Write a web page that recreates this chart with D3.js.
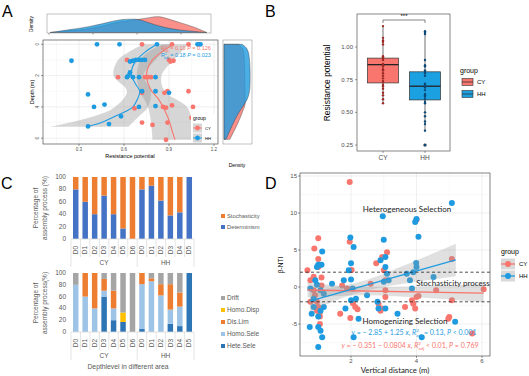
<!DOCTYPE html>
<html><head><meta charset="utf-8">
<script src="https://cdn.jsdelivr.net/npm/d3@7/dist/d3.min.js"></script>
<style>body{margin:0;background:#fff}svg{display:block}</style>
</head><body>
<svg id="c" width="529" height="376"></svg>
<script>
// ---------- DATA ----------
// Panel A scatter: [depth, resistance]
const aCY = [[0,0.72],[0,0.92],[0,1.03],[1,0.62],[1.0,0.90],[1.1,0.91],[1.05,0.93],[2.1,0.56],[2.1,0.74],[2.1,0.76],[2.1,0.78],[3.0,1.03],[3.0,0.89],[3.1,0.72],[3.1,0.87],[3.9,0.92],[4.0,0.86],[4.05,0.88],[4.1,0.67],[4.0,1.06],[4.7,1.05],[5.0,0.72],[5.15,0.79],[5.0,0.89],[6.1,0.88]];
const aHH = [[0,0.42],[0,0.57],[0,0.82],[0,1.09],[0,1.10],[0,1.11],[1.05,0.25],[1.1,0.64],[1.05,0.66],[1.0,0.68],[1.0,0.70],[1.0,0.72],[1.0,0.74],[1.8,0.64],[2.0,0.63],[2.1,0.62],[2.1,0.66],[2.1,0.70],[2.1,0.81],[3.0,0.72],[3.0,0.81],[3.1,0.90],[3.2,0.36],[3.85,0.47],[4.0,0.40],[4.0,0.70],[3.95,0.81],[4.6,0.58],[5.1,0.50],[5.25,0.36]];
// smooth curves: [depth, value]
const aSmoothCY = [[0,0.93],[0.5,0.85],[1,0.79],[1.5,0.76],[2,0.75],[2.5,0.76],[3,0.785],[3.5,0.83],[4,0.86],[4.5,0.885],[5,0.905],[5.5,0.92],[6.1,0.94]];
const aSmoothHH = [[0,0.82],[0.5,0.74],[1,0.685],[1.5,0.655],[2,0.65],[2.5,0.675],[3,0.705],[3.5,0.69],[4,0.66],[4.3,0.61],[4.6,0.54],[5,0.45],[5.27,0.35]];
// bands: [depth, lo, hi]
const aBandCY = [[0,0.86,1.03],[0.5,0.76,0.98],[1,0.71,0.93],[2,0.685,0.85],[3,0.707,0.87],[4,0.76,1.02],[5,0.78,1.06],[6.1,0.79,1.12]];
const aBandHH = [[0,0.73,0.93],[0.5,0.63,0.86],[1,0.56,0.81],[2,0.53,0.73],[3,0.62,0.78],[4,0.54,0.76],[4.6,0.40,0.70],[5.27,0.11,0.63]];
// top density: [value, density]
const densTopHH = [[0.256,0],[0.388,0.42],[0.483,0.75],[0.578,1.25],[0.653,1.67],[0.729,1.71],[0.767,1.67],[0.824,1.17],[0.919,0.54],[1.013,0.25],[1.146,0]];
const densTopCY = [[0.256,0],[0.483,0.42],[0.578,0.96],[0.653,1.38],[0.767,1.67],[0.843,2.0],[0.88,2.04],[0.919,1.79],[0.994,1.25],[1.07,0.75],[1.146,0]];
const topTicks = [0.25,0.50,0.75,1.00];
// right density: [depth, density]
const densRightHH = [[0,0.34],[0.25,0.44],[0.75,0.475],[1.6,0.49],[2.66,0.49],[3.1,0.475],[3.52,0.44],[3.94,0.36],[4.37,0.275],[4.8,0.21],[5.2,0.15],[5.65,0.094],[6.07,0.038]];
const densRightCY = [[0,0.275],[0.25,0.36],[0.75,0.38],[1.6,0.39],[2.66,0.39],[3.73,0.4],[3.94,0.39],[4.37,0.34],[4.8,0.29],[5.2,0.24],[5.65,0.17],[6.07,0.11]];
const aXTicks = [0.3,0.6,0.9,1.2];
const aYTicks = [0,2,4,6];

// Panel B
const groups = ["CY","HH"];
const bBox = {CY:{lo:0.565,q1:0.725,med:0.865,q3:0.915,hi:1.16}, HH:{lo:0.36,q1:0.595,med:0.70,q3:0.81,hi:1.12}};
const bOutHH = [0.25];
const bPtsCY = [1.16,1.07,1.05,1.04,1.02,0.93,0.92,0.91,0.90,0.87,0.86,0.85,0.83,0.82,0.80,0.78,0.76,0.74,0.73,0.71,0.70,0.68,0.65,0.63,0.60,0.57];
const bPtsHH = [1.12,1.11,1.10,0.90,0.86,0.85,0.82,0.81,0.80,0.78,0.72,0.71,0.70,0.69,0.67,0.64,0.63,0.62,0.60,0.58,0.57,0.50,0.47,0.43,0.41,0.36,0.25];
const bYTicks = [0.25,0.50,0.75,1.00];

// Panel C
const cCatsCY = ["D0","D1","D2","D3","D4","D5","D6"];
const cCatsHH = ["D0","D1","D2","D3","D4","D5"];
const cDeterminism = [80,60,40,70,40,17,0, 80,86,62,38,43,100];
const cStochasticity = [20,40,60,30,60,83,100, 20,14,38,62,57,0];
const cHeteSele = [0,0,0,60,20,17,0, 5,0,0,14,10,100];
const cHomoSele = [80,60,40,10,20,0,0, 76,86,62,24,33,0];
const cDisLim   = [0,40,60,20,30,0,0, 19,5,19,43,24,0];
const cHomoDisp = [0,0,0,0,0,16,0, 0,0,0,0,0,0];
const cDrift    = [20,0,0,10,30,67,100, 0,9,19,19,33,0];
const cYTicks = [0,20,40,60,80,100];

// Panel D scatter: [distance, bNTI]
const dCY = [[0.67,2.25],[0.76,0.9],[0.88,5.2],[1.0,6.6],[1.0,3.8],[1.0,2.7],[0.86,1.4],[0.86,-0.45],[0.9,-1.1],[0.96,-2.0],[1.0,-2.7],[1.05,-3.4],[1.05,-4.0],[1.05,-5.0],[1.1,1.3],[1.1,0.2],[0.76,-2.0],[0.96,-3.2],[1.67,-3.6],[1.73,0.2],[1.88,-0.2],[1.96,14.2],[1.96,6.1],[2.02,2.3],[2.06,-2.2],[1.98,-4.2],[2.13,-2.7],[2.2,-3.0],[2.6,0.45],[2.77,3.2],[2.84,-2.25],[2.9,-3.2],[2.95,4.05],[3.0,2.25],[3.05,0.9],[3.05,-0.45],[3.05,-1.35],[3.1,4.7],[2.94,-2.9],[3.65,-2.7],[3.86,-1.8],[3.9,-2.25],[3.96,-2.9],[4.0,9.1],[4.0,-1.35],[4.06,-1.2],[4.6,-0.45],[4.97,-4.3],[5.0,-4.05],[5.08,3.8],[5.08,-1.8],[5.7,-6.3],[6.05,-0.3]];
const dHH = [[0.76,-0.2],[0.74,-5.4],[0.8,-3.6],[0.86,-1.6],[0.91,0.9],[0.96,0.3],[0.96,2.7],[1.0,3.0],[1.05,3.0],[1.1,3.0],[1.07,-0.45],[1.07,-3.2],[1.0,-4.0],[1.0,-5.4],[1.07,-5.9],[1.0,-8.1],[1.12,-6.8],[1.12,4.8],[1.17,-0.9],[1.17,-2.7],[0.86,-2.7],[1.42,0.45],[1.78,0.9],[1.83,-2.9],[1.93,2.25],[1.98,6.7],[2.0,3.2],[2.08,5.4],[2.0,1.0],[2.05,-0.2],[2.0,-1.8],[2.08,-6.8],[2.23,-4.3],[2.15,-1.6],[2.49,-1.1],[2.81,-2.0],[2.84,-2.9],[2.9,3.6],[2.97,9.55],[3.0,6.4],[3.05,4.05],[3.05,2.7],[3.0,0.7],[3.1,1.8],[3.15,0.9],[3.05,-2.9],[3.42,-3.6],[3.7,1.8],[3.8,0.9],[3.86,-0.2],[3.9,2.0],[3.96,8.8],[4.0,9.2],[3.99,3.25],[4.0,2.7],[4.06,6.8],[4.16,-6.8],[4.52,1.35],[5.08,11.35],[5.18,-4.7]];
const dFitCY = [[0.67,-0.405],[6.05,-0.837]];
const dFitHH = [[0.74,-1.925],[5.2,3.65]];
const dBandCY = [[0.67,-1.4,0.6],[2.5,-1.1,0.0],[4,-1.4,0.05],[6.05,-2.1,0.4]];
const dBandHH = [[0.74,-3.4,-0.5],[1.5,-1.9,-0.03],[2.3,-0.68,0.73],[3,0.0,1.8],[4,0.7,3.6],[5.2,1.45,5.85]];
const dXTicks = [2,4,6];
const dYTicks = [-5,0,5,10,15];

// ---------- DRAW ----------
const svg = d3.select("#c");
const RED = "#F8766D", BLUE = "#1E9BE0";
const F = "Liberation Sans, Arial, sans-serif";
const FD = "Lato, Open Sans, sans-serif";

function txt(g,x,y,s,o={}){
  const t=g.append("text").attr("x",x).attr("y",y).text(s)
   .attr("font-family",o.ff||F).attr("font-size",o.fs||6).attr("fill",o.fill||"#000")
   .attr("text-anchor",o.anchor||"start");
  if(o.rot!==undefined) t.attr("transform",`rotate(${o.rot},${x},${y})`);
  if(o.fw) t.attr("font-weight",o.fw);
  if(o.db) t.attr("dominant-baseline",o.db);
  return t;
}

// Panel letters
txt(svg,2,17,"A",{fs:16});
txt(svg,265,17,"B",{fs:16});
txt(svg,1,189,"C",{fs:16});
txt(svg,265,189,"D",{fs:16});

// ===== Panel A =====
const xA = d3.scaleLinear([0.3,1.2],[79,214]);
const yA = d3.scaleLinear([0,6],[44.3,138.2]);
const A = svg.append("g");
A.append("rect").attr("x",43).attr("y",40).attr("width",175).attr("height",104).attr("fill","#fff");
// grid
const aMinorX=[0.15,0.45,0.75,1.05], aMinorY=[1,3,5];
aMinorX.forEach(v=>A.append("line").attr("x1",xA(v)).attr("x2",xA(v)).attr("y1",40).attr("y2",144).attr("stroke","#F2F2F2").attr("stroke-width",0.5));
aMinorY.forEach(v=>A.append("line").attr("y1",yA(v)).attr("y2",yA(v)).attr("x1",43).attr("x2",218).attr("stroke","#F2F2F2").attr("stroke-width",0.5));
aXTicks.forEach(v=>A.append("line").attr("x1",xA(v)).attr("x2",xA(v)).attr("y1",40).attr("y2",144).attr("stroke","#EBEBEB").attr("stroke-width",0.8));
aYTicks.forEach(v=>A.append("line").attr("y1",yA(v)).attr("y2",yA(v)).attr("x1",43).attr("x2",218).attr("stroke","#EBEBEB").attr("stroke-width",0.8));
const clipA = svg.append("clipPath").attr("id","clipA").append("rect").attr("x",43).attr("y",40).attr("width",175).attr("height",104);
const Ac = A.append("g").attr("clip-path","url(#clipA)");
const bandA = d3.area().y(d=>yA(d[0])).x0(d=>xA(d[1])).x1(d=>xA(d[2])).curve(d3.curveCatmullRom);
Ac.append("path").attr("d",bandA(aBandHH)).attr("fill","#999").attr("opacity",0.4);
Ac.append("path").attr("d",bandA(aBandCY)).attr("fill","#999").attr("opacity",0.4);
const lineA = d3.line().y(d=>yA(d[0])).x(d=>xA(d[1])).curve(d3.curveCatmullRom);
Ac.append("path").attr("d",lineA(aSmoothHH)).attr("fill","none").attr("stroke",BLUE).attr("stroke-width",1.1);
Ac.append("path").attr("d",lineA(aSmoothCY)).attr("fill","none").attr("stroke",RED).attr("stroke-width",1.1);
aCY.forEach(d=>Ac.append("circle").attr("cx",xA(d[1])).attr("cy",yA(d[0])).attr("r",2.4).attr("fill",RED));
aHH.forEach(d=>Ac.append("circle").attr("cx",xA(d[1])).attr("cy",yA(d[0])).attr("r",2.4).attr("fill",BLUE));
A.append("rect").attr("x",43).attr("y",40).attr("width",175).attr("height",104).attr("fill","none").attr("stroke","#333").attr("stroke-width",0.6);
aXTicks.forEach(v=>{A.append("line").attr("x1",xA(v)).attr("x2",xA(v)).attr("y1",144).attr("y2",146).attr("stroke","#333").attr("stroke-width",0.5);
  txt(A,xA(v),151,d3.format(".1f")(v),{fs:4.5,fill:"#4D4D4D",anchor:"middle"});});
aYTicks.forEach(v=>{A.append("line").attr("x1",41).attr("x2",43).attr("y1",yA(v)).attr("y2",yA(v)).attr("stroke","#333").attr("stroke-width",0.5);
  txt(A,39,yA(v),String(v),{fs:4.5,fill:"#4D4D4D",anchor:"middle",rot:-90});});
txt(A,130,158,"Resistance potential",{fs:5.5,anchor:"middle"});
txt(A,34,92,"Depth (m)",{fs:5.5,anchor:"middle",rot:-90});
// stats labels
const sCY = txt(A,161,50,"",{fs:5.5,fill:RED});
sCY.append("tspan").text("R");sCY.append("tspan").text("2").attr("font-size",3.5).attr("dy",-2);
sCY.append("tspan").text("adj").attr("font-size",3.5).attr("dy",3.5).attr("dx",-3);
sCY.append("tspan").text(" = 0.10   ").attr("dy",-1.5);sCY.append("tspan").text("P").attr("font-style","italic");sCY.append("tspan").text(" = 0.126");
const sHH = txt(A,161,57,"",{fs:5.5,fill:BLUE});
sHH.append("tspan").text("R");sHH.append("tspan").text("2").attr("font-size",3.5).attr("dy",-2);
sHH.append("tspan").text("adj").attr("font-size",3.5).attr("dy",3.5).attr("dx",-3);
sHH.append("tspan").text(" = 0.18   ").attr("dy",-1.5);sHH.append("tspan").text("P").attr("font-style","italic");sHH.append("tspan").text(" = 0.023");
// legend A
A.append("rect").attr("x",191).attr("y",114).attr("width",24).attr("height",29).attr("fill","#fff");
txt(A,193,120,"group",{fs:5});
[["CY",RED,128],["HH",BLUE,138]].forEach(([n,c,y])=>{
  A.append("rect").attr("x",193).attr("y",y-4.5).attr("width",9).attr("height",9).attr("fill","#D6D6D6");
  A.append("line").attr("x1",193).attr("x2",202).attr("y1",y).attr("y2",y).attr("stroke",c).attr("stroke-width",1);
  A.append("circle").attr("cx",197.5).attr("cy",y).attr("r",2.4).attr("fill",c);
  txt(A,205,y+1.5,n,{fs:4.2});
});
// top density
const xT = d3.scaleLinear([0.25,1.0],[49,181]);
const yT = d3.scaleLinear([0,2.1],[32.5,16]);
A.append("rect").attr("x",47).attr("y",14).attr("width",164).attr("height",19).attr("fill","#fff");
const areaT = d3.area().x(d=>xT(d[0])).y0(yT(0)).y1(d=>yT(d[1])).curve(d3.curveBasis);
A.append("path").attr("d",areaT(densTopCY)).attr("fill",RED).attr("fill-opacity",0.8).attr("stroke","#333").attr("stroke-width",0.4);
A.append("path").attr("d",areaT(densTopHH)).attr("fill",BLUE).attr("fill-opacity",0.8).attr("stroke","#333").attr("stroke-width",0.4);
A.append("rect").attr("x",47).attr("y",14).attr("width",164).attr("height",19).attr("fill","none").attr("stroke","#999").attr("stroke-width",0.6);
topTicks.forEach(v=>A.append("line").attr("x1",xT(v)).attr("x2",xT(v)).attr("y1",33).attr("y2",34.5).attr("stroke","#333").attr("stroke-width",0.5));
txt(A,33,24,"Density",{fs:4.8,anchor:"middle",rot:-90});
// right density
const xR = d3.scaleLinear([0,0.5],[224,250.7]);
A.append("rect").attr("x",223).attr("y",40).attr("width",29).attr("height",104).attr("fill","#fff");
const areaR = d3.area().y(d=>yA(d[0])).x0(xR(0)).x1(d=>xR(d[1])).curve(d3.curveBasis);
A.append("path").attr("d",areaR(densRightCY)).attr("fill",RED).attr("fill-opacity",0.8).attr("stroke","#333").attr("stroke-width",0.4);
A.append("path").attr("d",areaR(densRightHH)).attr("fill",BLUE).attr("fill-opacity",0.8).attr("stroke","#333").attr("stroke-width",0.4);
A.append("rect").attr("x",223).attr("y",40).attr("width",29).attr("height",104).attr("fill","none").attr("stroke","#999").attr("stroke-width",0.6);
txt(A,237,167,"Density",{fs:5,anchor:"middle"});

// ===== Panel B =====
const B = svg.append("g");
const xB = d3.scalePoint(groups,[383,425]);
const yB = d3.scaleLinear([0.25,1.0],[145,47]);
B.append("rect").attr("x",357).attr("y",14).attr("width",93).attr("height",137).attr("fill","none").attr("stroke","#555").attr("stroke-width",0.7);
bYTicks.forEach(v=>{B.append("line").attr("x1",355).attr("x2",357).attr("y1",yB(v)).attr("y2",yB(v)).attr("stroke","#333").attr("stroke-width",0.5);
  txt(B,353,yB(v)+2,d3.format(".2f")(v),{fs:6,fill:"#4D4D4D",anchor:"end"});});
groups.forEach(g=>{B.append("line").attr("x1",xB(g)).attr("x2",xB(g)).attr("y1",151).attr("y2",153).attr("stroke","#333").attr("stroke-width",0.5);
  txt(B,xB(g),160,g,{fs:6.5,fill:"#4D4D4D",anchor:"middle"});});
txt(B,330,83,"Resistance potential",{fs:8.5,anchor:"middle",rot:-90});
const bw = 31;
groups.forEach(g=>{
  const s=bBox[g], cx=xB(g), col=g==="CY"?RED:"#1BA1E2";
  B.append("line").attr("x1",cx).attr("x2",cx).attr("y1",yB(s.hi)).attr("y2",yB(s.lo)).attr("stroke","#333").attr("stroke-width",0.7);
  B.append("rect").attr("x",cx-bw/2).attr("y",yB(s.q3)).attr("width",bw).attr("height",yB(s.q1)-yB(s.q3)).attr("fill",col).attr("stroke","#333").attr("stroke-width",0.7);
  B.append("line").attr("x1",cx-bw/2).attr("x2",cx+bw/2).attr("y1",yB(s.med)).attr("y2",yB(s.med)).attr("stroke","#222").attr("stroke-width",1.3);
});
bOutHH.forEach(v=>B.append("circle").attr("cx",xB("HH")).attr("cy",yB(v)).attr("r",1.6).attr("fill","#222"));
bPtsCY.forEach(v=>B.append("circle").attr("cx",xB("CY")).attr("cy",yB(v)).attr("r",1.2).attr("fill","#9E2A25"));
bPtsHH.forEach(v=>B.append("circle").attr("cx",xB("HH")).attr("cy",yB(v)).attr("r",1.2).attr("fill","#0B4A78"));
B.append("path").attr("d",`M${xB("CY")},23V20H${xB("HH")}V23`).attr("fill","none").attr("stroke","#333").attr("stroke-width",0.6);
txt(B,404,18,"***",{fs:6,anchor:"middle"});
txt(B,460,73,"group",{fs:7});
[["CY",RED,82],["HH","#1BA1E2",94]].forEach(([n,c,y])=>{
  B.append("rect").attr("x",462).attr("y",y-3.5).attr("width",11).attr("height",7).attr("fill",c).attr("stroke","#333").attr("stroke-width",0.6);
  B.append("line").attr("x1",462).attr("x2",473).attr("y1",y).attr("y2",y).attr("stroke","#333").attr("stroke-width",0.8);
  txt(B,477,y+2,n,{fs:6});
});

// ===== Panel C =====
const C = svg.append("g");
const cKeys = cCatsCY.map(d=>"CY-"+d).concat(cCatsHH.map(d=>"HH-"+d));
const cLabels = cCatsCY.concat(cCatsHH);
const xC = d3.scaleBand(cKeys,[71,194]).paddingInner(0.42).paddingOuter(0.21);
function drawC(y0,y1,series,colors,titleY,tlab){
  const yC = d3.scaleLinear([0,100],[y0,y1]);
  const rows = cKeys.map((k,i)=>{const o={k};series.forEach(s=>o[s.name]=s.vals[i]);return o;});
  const st = d3.stack().keys(series.map(s=>s.name))(rows);
  st.forEach((layer,li)=>layer.forEach(seg=>{
    C.append("rect").attr("x",xC(seg.data.k)).attr("width",xC.bandwidth())
     .attr("y",yC(seg[1])).attr("height",Math.max(0,yC(seg[0])-yC(seg[1]))).attr("fill",colors[li]);
  }));
  cYTicks.forEach(v=>txt(C,66,yC(v)+2,String(v),{fs:6.5,fill:"#595959",anchor:"end"}));
  C.append("line").attr("x1",71).attr("x2",194).attr("y1",y0).attr("y2",y0).attr("stroke","#D9D9D9").attr("stroke-width",0.8);
  // category tick lines
  const step=xC.step();
  cKeys.forEach((k,i)=>{ if(i>0&&i!==7){const x=xC(k)-xC.paddingInner()*step/2;
    C.append("line").attr("x1",x).attr("x2",x).attr("y1",y0).attr("y2",y0+18).attr("stroke","#D9D9D9").attr("stroke-width",0.7);}
    txt(C,xC(k)+xC.bandwidth()/2+2.2,y0+11,cLabels[i],{fs:6.5,fill:"#595959",anchor:"middle",rot:-90});
  });
  const xs=[71, xC("HH-D0")-xC.paddingInner()*step/2, 194];
  xs.forEach(x=>C.append("line").attr("x1",x).attr("x2",x).attr("y1",y0).attr("y2",y0+28).attr("stroke","#D9D9D9").attr("stroke-width",0.7));
  txt(C,(xs[0]+xs[1])/2,y0+26,"CY",{fs:6.5,fill:"#595959",anchor:"middle"});
  txt(C,(xs[1]+xs[2])/2,y0+26,"HH",{fs:6.5,fill:"#595959",anchor:"middle"});
  txt(C,38,titleY,"Percentage of",{fs:6.5,fill:"#595959",anchor:"middle",rot:-90});
  txt(C,46.5,titleY,tlab,{fs:6.5,fill:"#595959",anchor:"middle",rot:-90});
}
drawC(239,177,[{name:"Determinism",vals:cDeterminism},{name:"Stochasticity",vals:cStochasticity}],["#4472C4","#ED7D31"],208,"assembly process (%)");
drawC(332,273,[{name:"Hete.Sele",vals:cHeteSele},{name:"Homo.Sele",vals:cHomoSele},{name:"Dis.Lim",vals:cDisLim},{name:"Homo.Disp",vals:cHomoDisp},{name:"Drift",vals:cDrift}],["#2E75B6","#9DC3E6","#ED7D31","#FFC000","#A5A5A5"],303,"assembly process(%)");
txt(C,128,369,"Depthlevel in different area",{fs:6.8,fill:"#595959",anchor:"middle"});
[["Stochasticity","#ED7D31",216],["Determinism","#4472C4",227]].forEach(([n,c,y])=>{
  C.append("rect").attr("x",221).attr("y",y-2).attr("width",4).attr("height",4).attr("fill",c);
  txt(C,227,y+2,n,{fs:5.8,fill:"#595959"});
});
[["Drift","#A5A5A5",298],["Homo.Disp","#FFC000",310],["Dis.Lim","#ED7D31",322],["Homo.Sele","#9DC3E6",334],["Hete.Sele","#2E75B6",346]].forEach(([n,c,y])=>{
  C.append("rect").attr("x",221).attr("y",y-2).attr("width",4).attr("height",4).attr("fill",c);
  txt(C,227,y+2.3,n,{fs:6.5,fill:"#595959"});
});

// ===== Panel D =====
const D = svg.append("g");
const xD = d3.scaleLinear([2,6],[351,482]);
const yD = d3.scaleLinear([-5,15],[324,176]);
const dl=300,dr=490,dt=173,db=356;
D.append("rect").attr("x",dl).attr("y",dt).attr("width",dr-dl).attr("height",db-dt).attr("fill","#fff");
[1,3,5].forEach(v=>D.append("line").attr("x1",xD(v)).attr("x2",xD(v)).attr("y1",dt).attr("y2",db).attr("stroke","#F2F2F2").attr("stroke-width",0.5));
[-7.5,-2.5,2.5,7.5,12.5].forEach(v=>D.append("line").attr("y1",yD(v)).attr("y2",yD(v)).attr("x1",dl).attr("x2",dr).attr("stroke","#F2F2F2").attr("stroke-width",0.5));
dXTicks.forEach(v=>D.append("line").attr("x1",xD(v)).attr("x2",xD(v)).attr("y1",dt).attr("y2",db).attr("stroke","#EBEBEB").attr("stroke-width",0.8));
dYTicks.forEach(v=>D.append("line").attr("y1",yD(v)).attr("y2",yD(v)).attr("x1",dl).attr("x2",dr).attr("stroke","#EBEBEB").attr("stroke-width",0.8));
svg.append("clipPath").attr("id","clipD").append("rect").attr("x",dl).attr("y",dt).attr("width",dr-dl).attr("height",db-dt);
const Dc = D.append("g").attr("clip-path","url(#clipD)");
dCY.forEach(d=>Dc.append("circle").attr("cx",xD(d[0])).attr("cy",yD(d[1])).attr("r",3).attr("fill",RED));
dHH.forEach(d=>Dc.append("circle").attr("cx",xD(d[0])).attr("cy",yD(d[1])).attr("r",3).attr("fill",BLUE));
const bandD = d3.area().x(d=>xD(d[0])).y0(d=>yD(d[1])).y1(d=>yD(d[2])).curve(d3.curveMonotoneX);
Dc.append("path").attr("d",bandD(dBandCY)).attr("fill","#999").attr("opacity",0.3);
Dc.append("path").attr("d",bandD(dBandHH)).attr("fill","#999").attr("opacity",0.3);
const lineD = d3.line().x(d=>xD(d[0])).y(d=>yD(d[1]));
Dc.append("path").attr("d",lineD(dFitCY)).attr("stroke",RED).attr("stroke-width",1.3).attr("fill","none");
Dc.append("path").attr("d",lineD(dFitHH)).attr("stroke",BLUE).attr("stroke-width",1.3).attr("fill","none");
[2,-2].forEach(v=>D.append("line").attr("x1",dl).attr("x2",dr).attr("y1",yD(v)).attr("y2",yD(v)).attr("stroke","#222").attr("stroke-width",0.8).attr("stroke-dasharray","3,2.5"));
D.append("rect").attr("x",dl).attr("y",dt).attr("width",dr-dl).attr("height",db-dt).attr("fill","none").attr("stroke","#333").attr("stroke-width",0.6);
dXTicks.forEach(v=>{D.append("line").attr("x1",xD(v)).attr("x2",xD(v)).attr("y1",db).attr("y2",db+2).attr("stroke","#333").attr("stroke-width",0.5);
  txt(D,xD(v),363,String(v),{fs:6,fill:"#4D4D4D",anchor:"middle"});});
dYTicks.forEach(v=>{D.append("line").attr("x1",dl-2).attr("x2",dl).attr("y1",yD(v)).attr("y2",yD(v)).attr("stroke","#333").attr("stroke-width",0.5);
  txt(D,dl-3,yD(v)+2,String(v),{fs:6,fill:"#4D4D4D",anchor:"end"});});
txt(D,283,265,"β-NTI",{fs:6.5,anchor:"middle",rot:-90});
txt(D,395,373,"Vertical distance (m)",{fs:7.8,anchor:"middle",fill:"#222",ff:FD});
txt(D,407,212,"Heterogeneous Selection",{fs:8,anchor:"middle",ff:FD,fill:"#222"});
txt(D,453,286,"Stochasticity process",{fs:8,anchor:"middle",ff:FD,fill:"#222"});
txt(D,405,324,"Homogenizing Selection",{fs:8,anchor:"middle",ff:FD,fill:"#222"});
function eq(x,y,col,parts){
  const t=txt(D,x,y,"",{fs:7,fill:col,anchor:"middle",ff:FD});
  parts.forEach(p=>{const s=t.append("tspan").text(p[0]);if(p[1]==="i")s.attr("font-style","italic");
    if(p[1]==="sup")s.attr("font-size",4.5).attr("dy",-3);
    if(p[1]==="sub")s.attr("font-size",4.5).attr("dy",4.5).attr("dx",-2.5);
    if(p[2]) s.attr("dy",p[2]);});
  return t;
}
eq(414,335,BLUE,[["y","i"],[" = − 2.85 + 1.25 "],["x","i"],[", "],["R","i"],["2","sup"],["adj","sub"],[" = 0.13, ","",-1.5],["P","i"],[" < 0.001"]]);
eq(410,348,RED,[["y","i"],[" = − 0.351 − 0.0804 "],["x","i"],[", "],["R","i"],["2","sup"],["adj","sub"],[" < 0.01, ","",-1.5],["P","i"],[" = 0.769"]]);
// legend D
txt(D,501,254,"group",{fs:7});
[["CY",RED,264],["HH",BLUE,276]].forEach(([n,c,y])=>{
  D.append("rect").attr("x",501).attr("y",y-5.5).attr("width",14).attr("height",11).attr("fill","#D9D9D9");
  D.append("line").attr("x1",501).attr("x2",515).attr("y1",y).attr("y2",y).attr("stroke",c).attr("stroke-width",1.3);
  D.append("circle").attr("cx",508).attr("cy",y).attr("r",3).attr("fill",c);
  txt(D,519,y+2.2,n,{fs:6});
});
</script>
</body></html>
